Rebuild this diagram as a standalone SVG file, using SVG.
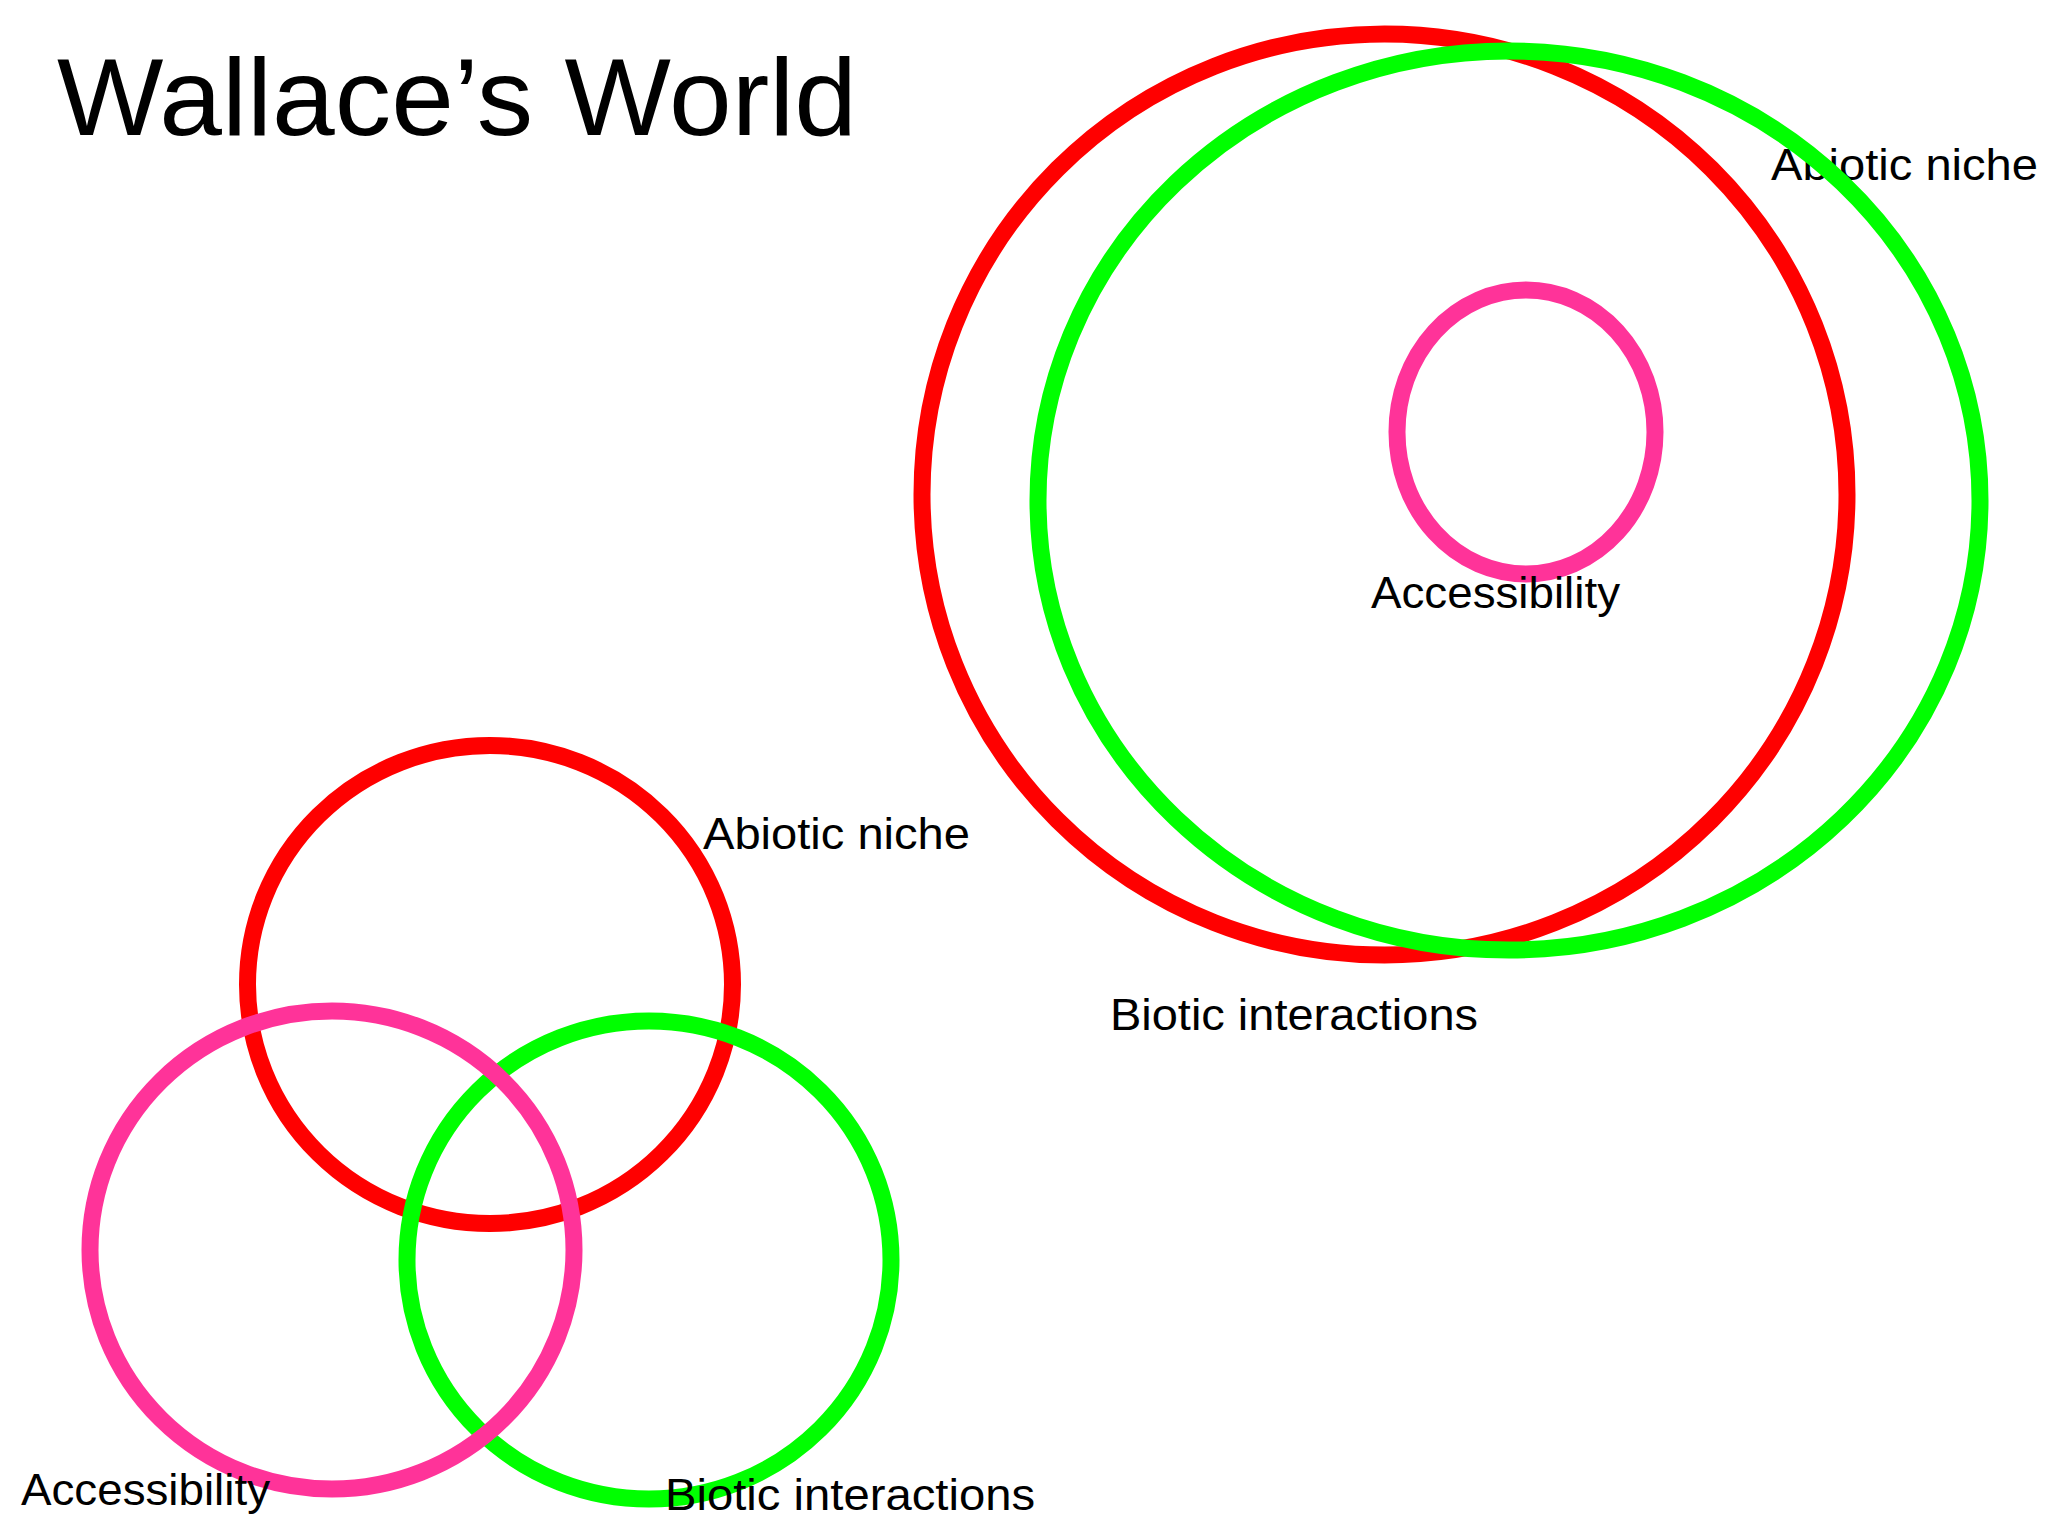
<svg xmlns="http://www.w3.org/2000/svg" width="2048" height="1536" viewBox="0 0 2048 1536">
  <style>
    .ring { fill: none; stroke-width: 17; }
    .red { stroke: #FF0000; }
    .green { stroke: #00FF00; }
    .pink { stroke: #FF3399; }
    .lbl { font-family: "Liberation Sans", Arial, sans-serif; font-size: 44px; fill: #000000; }
    .title { font-family: "Liberation Sans", Arial, sans-serif; font-size: 109px; fill: #000000; }
  </style>
  <rect x="0" y="0" width="2048" height="1536" fill="#FFFFFF"/>

  <text class="title" x="57" y="135" textLength="800" lengthAdjust="spacingAndGlyphs">Wallace’s World</text>

  <!-- Top-right nested diagram -->
  <g id="abiotic-niche-big">
    <ellipse class="ring red" cx="1384.5" cy="494.5" rx="462.5" ry="460.5"/>
    <text class="lbl" x="1771" y="180" textLength="267" lengthAdjust="spacingAndGlyphs">Abiotic niche</text>
  </g>
  <g id="biotic-interactions-big">
    <ellipse class="ring green" cx="1509" cy="500.5" rx="471" ry="449.5"/>
    <text class="lbl" x="1110" y="1030" textLength="368" lengthAdjust="spacingAndGlyphs">Biotic interactions</text>
  </g>
  <g id="accessibility-small">
    <ellipse class="ring pink" cx="1526" cy="432" rx="129" ry="142"/>
    <text class="lbl" x="1371" y="608" textLength="249" lengthAdjust="spacingAndGlyphs">Accessibility</text>
  </g>

  <!-- Bottom-left Venn diagram -->
  <g id="abiotic-niche-venn">
    <ellipse class="ring red" cx="490" cy="984.5" rx="242.5" ry="239"/>
    <text class="lbl" x="703" y="849" textLength="267" lengthAdjust="spacingAndGlyphs">Abiotic niche</text>
  </g>
  <g id="biotic-interactions-venn">
    <ellipse class="ring green" cx="649" cy="1260" rx="242" ry="239"/>
  </g>
  <g id="accessibility-venn">
    <ellipse class="ring pink" cx="332" cy="1250" rx="242" ry="239"/>
  </g>
  <g id="venn-labels">
    <text class="lbl" x="21" y="1505" textLength="249" lengthAdjust="spacingAndGlyphs">Accessibility</text>
    <text class="lbl" x="665" y="1510" textLength="370" lengthAdjust="spacingAndGlyphs">Biotic interactions</text>
  </g>

  <g id="connectors"/>
</svg>
